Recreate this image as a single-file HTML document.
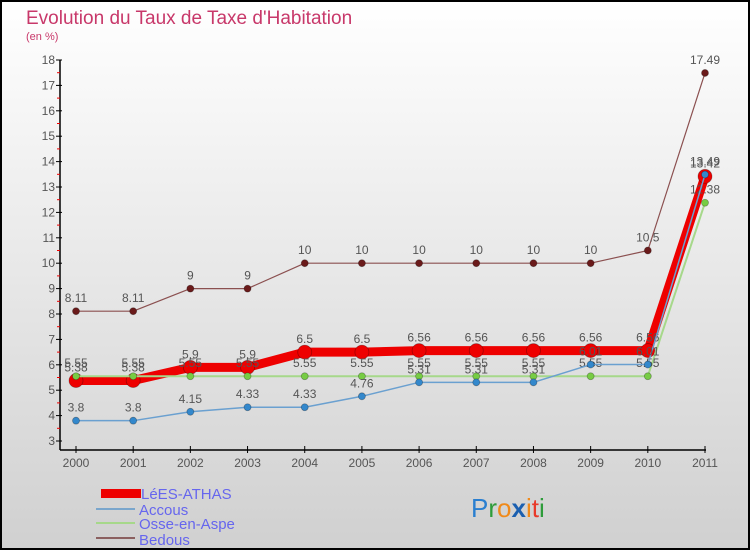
<!DOCTYPE html>
<html><head><meta charset="utf-8"><style>
body{margin:0;}
svg{display:block;font-family:"Liberation Sans",sans-serif;}
</style></head><body>
<svg id="c" width="750" height="550">
<defs><linearGradient id="bg" x1="0" y1="0" x2="0" y2="1"><stop offset="0" stop-color="#ffffff"/><stop offset="1" stop-color="#d0d0d0"/></linearGradient></defs>
<rect x="1" y="1" width="748" height="548" fill="url(#bg)" stroke="#000" stroke-width="2"/>
<text x="26" y="24" font-size="19" fill="#c8386a">Evolution du Taux de Taxe d'Habitation</text>
<text x="26" y="40" font-size="11" fill="#c8386a">(en %)</text>
<g id="axes"></g>
<g id="series"></g>
<g id="legend">
<rect x="101" y="489" width="40" height="9" fill="#e00"/>
<text x="141" y="499" font-size="15" fill="#6666ee">LéES-ATHAS</text>
<line x1="96" y1="509" x2="135" y2="509" stroke="#7aa6cc" stroke-width="2"/>
<text x="139" y="515" font-size="15" fill="#6666ee">Accous</text>
<line x1="96" y1="523" x2="135" y2="523" stroke="#a6d88a" stroke-width="2"/>
<text x="139" y="529" font-size="15" fill="#6666ee">Osse-en-Aspe</text>
<line x1="96" y1="538" x2="135" y2="538" stroke="#8b6060" stroke-width="2"/>
<text x="139" y="545" font-size="15" fill="#6666ee">Bedous</text>
</g>
<text x="471" y="517" font-size="26"><tspan fill="#2a7fd0">P</tspan><tspan fill="#2e9c3a">r</tspan><tspan fill="#f08a1a">o</tspan><tspan fill="#1a5fb0" font-weight="bold">x</tspan><tspan fill="#f08a1a">i</tspan><tspan fill="#e83a2a">t</tspan><tspan fill="#2e9c3a">i</tspan></text>
</svg>
<script>
const years=[2000,2001,2002,2003,2004,2005,2006,2007,2008,2009,2010,2011];
const yTicks=[3,4,5,6,7,8,9,10,11,12,13,14,15,16,17,18];
const lesAthas=[5.38,5.38,5.9,5.9,6.5,6.5,6.56,6.56,6.56,6.56,6.56,13.42];
const accous=[3.8,3.8,4.15,4.33,4.33,4.76,5.31,5.31,5.31,6.01,6.01,13.49];
const osse=[5.55,5.55,5.55,5.55,5.55,5.55,5.55,5.55,5.55,5.55,5.55,12.38];
const bedous=[8.11,8.11,9,9,10,10,10,10,10,10,10.5,17.49];
const NS="http://www.w3.org/2000/svg";
function X(i){return 76+i*(705-76)/(years.length-1);}
function Y(v){return 441-(v-3)*(441-60)/15;}
function mk(tag,attrs,parent){const e=document.createElementNS(NS,tag);for(const k in attrs)e.setAttribute(k,attrs[k]);parent.appendChild(e);return e;}
const ax=document.getElementById('axes');
let l=mk('line',{x1:60,y1:60,x2:60,y2:450,stroke:'#000','stroke-width':1.5},ax);


l=mk('line',{x1:60,y1:450,x2:706,y2:450,stroke:'#000','stroke-width':1.5},ax);


yTicks.forEach((t,k)=>{
  const y=Y(t);
  mk('line',{x1:56,y1:y,x2:62,y2:y,stroke:'#000'},ax);
  if(k<yTicks.length-1) mk('line',{x1:57,y1:y-12.7,x2:60,y2:y-12.7,stroke:'#e00'},ax);
  const tx=mk('text',{x:55,y:y+4,'font-size':12,fill:'#555','text-anchor':'end'},ax);
  tx.textContent=t;
  
  
});
years.forEach((yr,i)=>{
  const x=X(i);
  mk('line',{x1:x,y1:446,x2:x,y2:453,stroke:'#000'},ax);
  const tx=mk('text',{x:x,y:467,'font-size':12,fill:'#555','text-anchor':'middle'},ax);
  tx.textContent=yr;
  
  
});
const sg=document.getElementById('series');
function draw(vals,name,color,lw,dotFill,r){
  const g=mk('g',{},sg);
  
  
  const p=mk('polyline',{points:vals.map((v,i)=>X(i)+','+Y(v)).join(' '),fill:'none',stroke:color,'stroke-width':lw,'stroke-linejoin':'round'},g);
  
  
  vals.forEach((v,i)=>{
    const c=mk('circle',{cx:X(i),cy:Y(v),r:r,fill:dotFill,stroke:'rgba(0,0,0,0.3)','stroke-width':0.8},g);
    
    
    const t=mk('text',{x:X(i),y:Y(v)-9,'font-size':12,fill:'#555','text-anchor':'middle'},g);
    t.textContent=String(v);
    
    
  });
}
draw(bedous,'bedous','#8b5050',1.2,'#6a1a1a',3.5);
draw(lesAthas,'les-athas','#ee0000',9,'#ee0000',7);
draw(osse,'osse-en-aspe','#a6d88a',2,'#77cc44',3.5);
draw(accous,'accous','#6aa0d0',1.5,'#3388cc',3.5);
</script>
</body></html>
